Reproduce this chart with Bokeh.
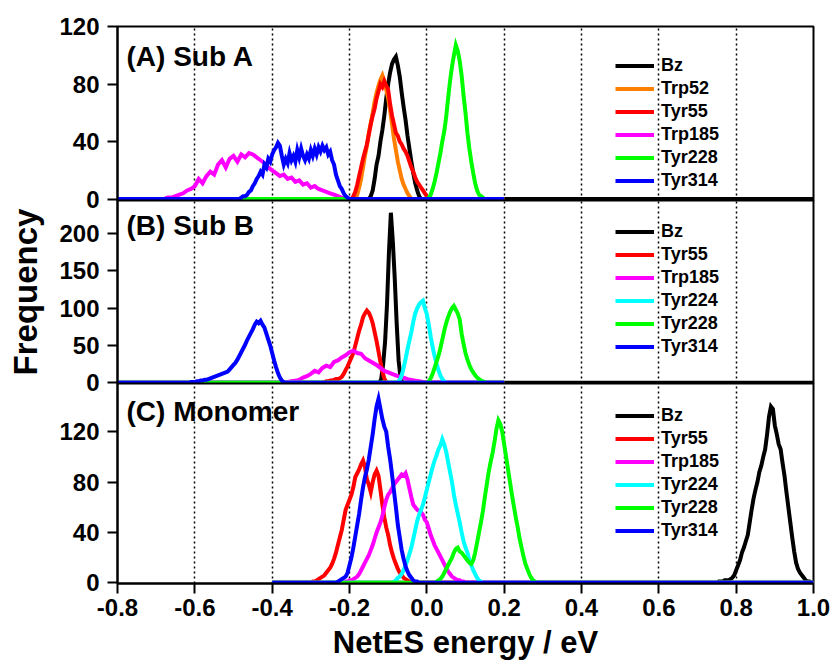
import numpy as np
from bokeh.plotting import figure
from bokeh.layouts import column
from bokeh.models import (Legend, LegendItem, Label, Grid, FixedTicker,
                          PrintfTickFormatter, Range1d)
from bokeh.embed import file_html
from bokeh.resources import INLINE

# ---------------- data ----------------
X_TICKS = [-0.8, -0.6, -0.4, -0.2, 0.0, 0.2, 0.4, 0.6, 0.8, 1.0]
GRID_TICKS = [-0.6, -0.4, -0.2, 0.0, 0.2, 0.4, 0.6, 0.8]
A_Y_TICKS = [0, 40, 80, 120]
B_Y_TICKS = [0, 50, 100, 150, 200]
C_Y_TICKS = [0, 40, 80, 120]

# Panel A (Sub A)
A_BZ_X0, A_BZ_DX = -0.150, 0.005
A_BZ = [0, 2, 6, 14, 24, 30, 40, 48, 58, 70, 80, 88, 94, 97, 99, 93, 85, 74, 64, 55,
        44, 35, 26, 18, 11, 6, 2, 0]
A_TRP52_X0, A_TRP52_DX = -0.185, 0.005
A_TRP52 = [0, 3, 8, 14, 22, 30, 37, 46, 53, 60, 68, 74, 79, 83, 86, 82, 76, 70, 62, 52,
           42, 34, 26, 20, 14, 10, 7, 4, 2, 0]
A_TYR55_X0, A_TYR55_DX = -0.195, 0.005
A_TYR55 = [0, 2, 5, 10, 16, 22, 28, 33, 38, 45, 52, 58, 63, 70, 75, 80, 78, 82, 79, 76,
           66, 58, 52, 46, 44, 40, 38, 35, 33, 30, 26, 22, 19, 15, 12, 10, 8, 6, 4, 2, 0]
A_TRP185_X0, A_TRP185_DX = -0.68, 0.01
A_TRP185 = [0, 1, 1, 2, 3, 4, 6, 7, 9, 14, 11, 16, 19, 17, 24, 27, 22, 28, 30, 26,
            31, 29, 32, 31, 29, 27, 25, 22, 20, 18, 16, 17, 14, 15, 12, 13, 10, 11, 8, 9,
            7, 6, 5, 4, 3, 2, 1, 0]
A_TYR228_X0, A_TYR228_DX = 0.000, 0.005
A_TYR228 = [0, 1, 3, 7, 12, 18, 25, 32, 40, 47, 57, 70, 82, 92, 100, 107, 103, 96, 86, 72,
            60, 46, 35, 26, 18, 11, 6, 3, 2, 1, 0]
A_TYR314_X0, A_TYR314_DX = -0.490, 0.005
A_TYR314 = [0, 0, 1, 2, 2, 3, 5, 6, 9, 11, 14, 16, 19, 17, 24, 22, 28, 26, 31, 34,
            36, 39, 37, 30, 24, 28, 25, 32, 27, 30, 26, 34, 29, 35, 30, 27, 31, 28, 34, 30,
            35, 31, 36, 33, 37, 34, 36, 31, 33, 27, 24, 17, 13, 9, 7, 4, 2, 1, 0]

# Panel B (Sub B)
B_BZ_X0, B_BZ_DX = -0.123, 0.005
B_BZ = [0, 5, 25, 55, 105, 175, 228, 190, 140, 80, 30, 6, 0]
B_TYR55_X0, B_TYR55_DX = -0.270, 0.005
B_TYR55 = [0, 1, 2, 2, 3, 3, 4, 5, 5, 6, 8, 12, 17, 22, 28, 34, 40, 50, 60, 70,
           78, 88, 93, 97, 94, 88, 80, 68, 56, 42, 28, 15, 6, 1, 0]
B_TRP185_X0, B_TRP185_DX = -0.37, 0.01
B_TRP185 = [0, 1, 2, 3, 4, 7, 9, 12, 16, 14, 20, 23, 21, 28, 30, 34, 37, 41, 43, 40,
            39, 33, 30, 27, 24, 20, 16, 14, 12, 10, 8, 7, 5, 4, 3, 2, 1, 0]
B_TYR224_X0, B_TYR224_DX = -0.080, 0.005
B_TYR224 = [0, 1, 4, 10, 20, 32, 45, 57, 68, 82, 93, 100, 105, 108, 110, 100, 92, 78, 62, 48,
            36, 26, 17, 10, 5, 2, 0]
B_TYR228_X0, B_TYR228_DX = 0.000, 0.005
B_TYR228 = [0, 2, 6, 12, 20, 28, 36, 46, 58, 70, 80, 88, 95, 100, 103, 98, 93, 85, 66, 52,
            40, 31, 24, 18, 14, 10, 7, 5, 3, 2, 1, 0]
B_TYR314_X0, B_TYR314_DX = -0.620, 0.005
B_TYR314 = [0, 0, 1, 1, 1, 2, 2, 3, 3, 4, 4, 5, 6, 7, 8, 9, 10, 11, 12, 13,
            14, 15, 18, 21, 24, 27, 31, 36, 41, 46, 51, 57, 62, 67, 72, 78, 82, 80, 83, 78,
            74, 66, 58, 50, 40, 30, 21, 13, 7, 3, 1, 0]

# Panel C (Monomer)
C_BZ_X0, C_BZ_DX = 0.750, 0.005
C_BZ = [0, 1, 1, 1, 2, 2, 2, 3, 4, 6, 10, 14, 18, 24, 28, 33, 38, 48, 58, 67,
        74, 80, 88, 93, 100, 106, 118, 132, 140, 138, 125, 118, 110, 106, 95, 85, 72, 60, 48, 36,
        25, 16, 11, 8, 6, 4, 2, 1, 1, 0]
C_TYR55_X0, C_TYR55_DX = -0.300, 0.005
C_TYR55 = [0, 1, 1, 2, 3, 4, 5, 6, 8, 10, 12, 15, 19, 24, 30, 36, 42, 50, 58, 62,
           66, 70, 76, 84, 87, 90, 94, 97, 92, 82, 78, 72, 80, 86, 89, 85, 74, 62, 52, 44,
           38, 30, 24, 19, 15, 11, 8, 6, 4, 3, 2, 1, 0]
C_TRP185_X0, C_TRP185_DX = -0.215, 0.005
C_TRP185 = [0, 1, 1, 2, 2, 3, 4, 5, 7, 10, 13, 16, 19, 22, 26, 30, 35, 40, 44, 48,
            53, 60, 66, 70, 72, 75, 78, 80, 82, 84, 86, 85, 87, 82, 75, 68, 62, 60, 58, 57,
            56, 54, 50, 48, 43, 38, 34, 30, 27, 24, 21, 18, 15, 12, 9, 7, 5, 4, 3, 2,
            2, 1, 1, 0]
C_TYR224_X0, C_TYR224_DX = -0.090, 0.005
C_TYR224 = [0, 1, 2, 4, 5, 7, 10, 14, 18, 23, 28, 35, 42, 49, 54, 58, 62, 68, 74, 80,
            86, 92, 97, 101, 106, 109, 114, 110, 104, 96, 88, 80, 70, 62, 55, 48, 40, 33, 28, 24,
            18, 14, 10, 7, 4, 2, 1, 0]
C_TYR228_X0, C_TYR228_DX = 0.020, 0.005
C_TYR228 = [0, 1, 2, 3, 5, 8, 11, 14, 17, 20, 24, 27, 28, 25, 24, 22, 20, 18, 16, 15,
            18, 24, 32, 40, 48, 57, 68, 78, 88, 96, 103, 112, 122, 129, 126, 120, 110, 100, 90, 80,
            70, 61, 52, 44, 35, 28, 21, 15, 11, 7, 4, 2, 1, 0]
C_TYR314_X0, C_TYR314_DX = -0.235, 0.005
C_TYR314 = [0, 1, 2, 3, 4, 5, 8, 14, 20, 28, 37, 46, 55, 66, 76, 84, 90, 98, 108, 118,
            130, 140, 146, 138, 130, 124, 120, 108, 98, 86, 73, 60, 46, 36, 26, 19, 13, 9, 6, 4,
            2, 1, 1, 0]

# series: (label, colour, x0, dx, values, baseline start, baseline end)
PANEL_A = [
    ("Bz", "#000000", A_BZ_X0, A_BZ_DX, A_BZ, -0.8, 1.0),
    ("Trp52", "#FF8000", A_TRP52_X0, A_TRP52_DX, A_TRP52, -0.8, 0.2),
    ("Tyr55", "#FF0000", A_TYR55_X0, A_TYR55_DX, A_TYR55, -0.8, 0.2),
    ("Trp185", "#FF00FF", A_TRP185_X0, A_TRP185_DX, A_TRP185, -0.8, 0.2),
    ("Tyr228", "#00FF00", A_TYR228_X0, A_TYR228_DX, A_TYR228, -0.8, 0.2),
    ("Tyr314", "#0000FF", A_TYR314_X0, A_TYR314_DX, A_TYR314, -0.8, 0.2),
]
PANEL_B = [
    ("Bz", "#000000", B_BZ_X0, B_BZ_DX, B_BZ, -0.8, 1.0),
    ("Tyr55", "#FF0000", B_TYR55_X0, B_TYR55_DX, B_TYR55, -0.8, 0.2),
    ("Trp185", "#FF00FF", B_TRP185_X0, B_TRP185_DX, B_TRP185, -0.8, 0.2),
    ("Tyr224", "#00FFFF", B_TYR224_X0, B_TYR224_DX, B_TYR224, -0.8, 0.2),
    ("Tyr228", "#00FF00", B_TYR228_X0, B_TYR228_DX, B_TYR228, -0.8, 0.2),
    ("Tyr314", "#0000FF", B_TYR314_X0, B_TYR314_DX, B_TYR314, -0.8, 0.2),
]
PANEL_C = [
    ("Bz", "#000000", C_BZ_X0, C_BZ_DX, C_BZ, -0.4, 1.0),
    ("Tyr55", "#FF0000", C_TYR55_X0, C_TYR55_DX, C_TYR55, -0.4, 1.0),
    ("Trp185", "#FF00FF", C_TRP185_X0, C_TRP185_DX, C_TRP185, -0.4, 1.0),
    ("Tyr224", "#00FFFF", C_TYR224_X0, C_TYR224_DX, C_TYR224, -0.4, 1.0),
    ("Tyr228", "#00FF00", C_TYR228_X0, C_TYR228_DX, C_TYR228, -0.4, 1.0),
    ("Tyr314", "#0000FF", C_TYR314_X0, C_TYR314_DX, C_TYR314, -0.4, 1.0),
]

FONT = "Liberation Sans"
x_range = Range1d(-0.8, 1.0)
OVER = 14  # extra canvas above/below each shared edge so edge tick labels are not clipped


def make_panel(series, y_range, y_ticks, frame_h, top, bottom, title, title_y,
               legend_y, with_xaxis=False, ylabel=None):
    p = figure(frame_width=696, frame_height=frame_h, x_range=x_range, y_range=y_range,
               min_border_left=117, min_border_right=21, min_border_top=top,
               min_border_bottom=bottom, toolbar_location=None, output_backend="svg",
               x_axis_location="below" if with_xaxis else None)
    p.border_fill_alpha = 0
    p.xgrid.visible = False
    p.ygrid.visible = False
    p.add_layout(Grid(dimension=0, ticker=FixedTicker(ticks=GRID_TICKS),
                      grid_line_color="black", grid_line_dash="2 3",
                      grid_line_width=1.5))
    p.outline_line_color = "black"
    p.outline_line_width = 2
    p.background_fill_color = "white"

    ax = p.yaxis[0]
    ax.ticker = FixedTicker(ticks=y_ticks)
    ax.major_label_text_font = FONT
    ax.major_label_text_font_style = "bold"
    ax.major_label_text_font_size = "24px"
    ax.major_label_text_color = "black"
    ax.major_tick_out = 10
    ax.major_tick_in = 0
    ax.minor_tick_out = 0
    ax.minor_tick_in = 0
    ax.major_tick_line_width = 2
    ax.axis_line_width = 2
    ax.major_label_standoff = 8
    if ylabel:
        ax.axis_label = ylabel
        ax.axis_label_text_font = FONT
        ax.axis_label_text_font_style = "bold"
        ax.axis_label_text_font_size = "33px"
        ax.axis_label_text_color = "black"
        ax.axis_label_standoff = 12

    if with_xaxis:
        xa = p.xaxis[0]
        xa.ticker = FixedTicker(ticks=X_TICKS)
        xa.formatter = PrintfTickFormatter(format="%.1f")
        xa.major_label_text_font = FONT
        xa.major_label_text_font_style = "bold"
        xa.major_label_text_font_size = "24px"
        xa.major_label_text_color = "black"
        xa.major_tick_out = 10
        xa.major_tick_in = 0
        xa.minor_tick_out = 0
        xa.minor_tick_in = 0
        xa.major_tick_line_width = 2
        xa.axis_line_width = 2
        xa.major_label_standoff = 5
        xa.axis_label = "NetES energy / eV"
        xa.axis_label_text_font = FONT
        xa.axis_label_text_font_style = "bold"
        xa.axis_label_text_font_size = "31px"
        xa.axis_label_text_color = "black"
        xa.axis_label_standoff = 6

    items = []
    for name, color, x0, dx, vals, lo, hi in series:
        bins = list(np.round(x0 + dx * np.arange(len(vals)), 4))
        xs = [lo] + bins + [hi]
        ys = [0] + list(vals) + [0]
        r = p.line(xs, ys, line_color=color, line_width=4, line_join="miter")
        items.append(LegendItem(label=name, renderers=[r]))

    legend = Legend(items=items, location=(498, legend_y), orientation="vertical",
                    border_line_color=None, background_fill_alpha=0, padding=0,
                    margin=0, spacing=0, glyph_width=39, glyph_height=23,
                    label_height=23, label_standoff=7, label_text_font=FONT,
                    label_text_font_style="bold", label_text_font_size="18px",
                    label_text_color="black")
    p.add_layout(legend)

    p.add_layout(Label(x=9, y=title_y, x_units="screen", y_units="screen", text=title,
                       text_font=FONT, text_font_style="bold", text_font_size="28px",
                       text_baseline="middle", text_color="black"))
    return p


pA = make_panel(PANEL_A, Range1d(-1, 120), A_Y_TICKS, 174, 26, OVER, "(A) Sub A", 144, 8)
pB = make_panel(PANEL_B, Range1d(-0.9, 244.4), B_Y_TICKS, 183, OVER, OVER, "(B) Sub B", 158,
                25, ylabel="Frequency")
pC = make_panel(PANEL_C, Range1d(-0.5, 158.2), C_Y_TICKS, 200, OVER, 88, "(C) Monomer", 172,
                41, with_xaxis=True)
pB.margin = (-2 * OVER, 0, 0, 0)
pC.margin = (-2 * OVER, 0, 0, 0)

layout = column(pA, pB, pC, spacing=0)
open("out.html", "w").write(file_html(layout, INLINE))
